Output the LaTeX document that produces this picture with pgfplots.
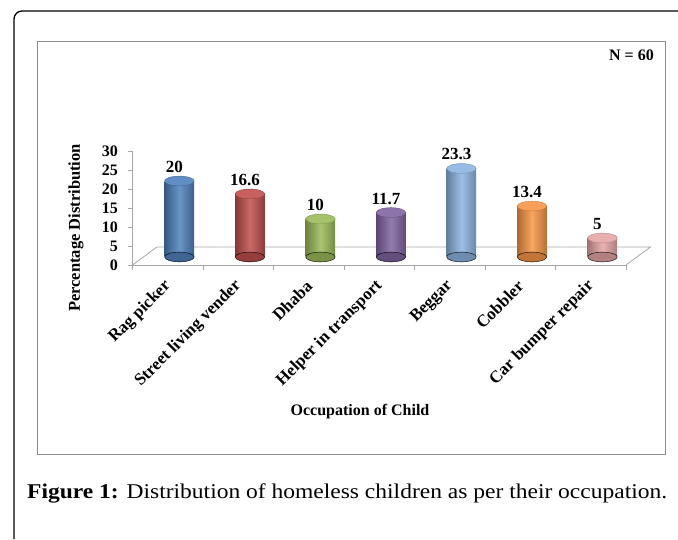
\documentclass[border=0pt]{standalone}
\usepackage{pgfplots}
\pgfplotsset{compat=1.18}
\usepackage{fontspec}
\setmainfont{Liberation Serif}
\usepackage{graphicx}

\definecolor{cA}{HTML}{4F81BD}
\definecolor{cB}{HTML}{C0504D}
\definecolor{cC}{HTML}{9BBB59}
\definecolor{cD}{HTML}{8064A2}
\definecolor{cE}{HTML}{8DB4E2}
\definecolor{cF}{HTML}{F79646}
\definecolor{cG}{HTML}{E6A6A5}
\definecolor{floorgray}{HTML}{A6A6A6}
\definecolor{boxgray}{HTML}{8C8C8C}

\newcommand{\cyl}[3]{%
  \addplot[only marks, mark=*, mark size=14.75pt,
    mark options={yscale=0.33, fill=#3!78!black, draw=none}] coordinates {(#1,0)};
  \addplot[ybar, bar width=29.5pt, bar shift=0pt, draw=none,
    left color=#3!70!black, right color=#3!75!black, middle color=#3!85!white] coordinates {(#1,#2)};
  \addplot[only marks, mark=*, mark size=14.75pt,
    mark options={yscale=0.33, fill=#3!90!white, draw=#3!80!black, line width=0.4pt},
    nodes near coords,
    nodes near coords style={anchor=center, xshift=-5pt, yshift=14pt, text=black,
      font=\bfseries\fontsize{17}{17}\selectfont}] coordinates {(#1,#2)};
}

\begin{document}
\begin{tikzpicture}[x=1pt,y=1pt]
\useasboundingbox (0,0) rectangle (678,539);
% outer frame
\draw[black, line width=1.3pt, rounded corners=8pt] (14,0) -- (14,528) -- (678,528);
% inner box
\draw[boxgray, line width=0.8pt] (37,85) rectangle (665,498);

% front plane axis (value axis and floor)
\begin{axis}[
  at={(132.5pt,274pt)}, anchor=south west, scale only axis,
  width=493.5pt, height=114pt,
  xmin=-0.5, xmax=6.5, ymin=0, ymax=30,
  axis x line*=bottom, axis y line*=left,
  axis line style={-, floorgray, line width=0.8pt},
  xtick={0,...,6},
  xticklabels={Rag picker, Street living vender, Dhaba, Helper in transport, Beggar, Cobbler, Car bumper repair},
  minor xtick={-0.5,0.5,...,6.5},
  ytick={0,5,...,30},
  tick align=outside, major tick length=5pt, minor tick length=5pt,
  tick style={floorgray, line width=0.8pt},
  major x tick style={draw=none},
  tick label style={text=black},
  yticklabel style={xshift=-6pt, font=\bfseries\fontsize{16}{16}\selectfont},
  xticklabel style={rotate=45, anchor=east, xshift=-5.7pt, yshift=-9.9pt, font=\bfseries\fontsize{17}{17}\selectfont},
  /pgf/number format/assume math mode=true,
  clip=false,
]
\draw[floorgray, line width=0.8pt] (axis cs:-0.5,0) -- ++(24.5pt,18pt) -- ++(493.5pt,0pt) -- (axis cs:6.5,0);
\end{axis}

% bar plane axis (cylinders)
\begin{axis}[
  at={(144.2pt,282pt)}, anchor=south west, scale only axis,
  width=493.5pt, height=114pt,
  xmin=-0.5, xmax=6.5, ymin=0, ymax=30,
  hide axis, clip=false,
  /pgf/number format/assume math mode=true,
]
\cyl{0}{20}{cA}
\cyl{1}{16.6}{cB}
\cyl{2}{10}{cC}
\cyl{3}{11.7}{cD}
\cyl{4}{23.3}{cE}
\cyl{5}{13.4}{cF}
\cyl{6}{5}{cG}
\end{axis}

% texts
\node[rotate=90, font=\bfseries\fontsize{16.5}{16.5}\selectfont] at (76,311) {Percentage Distribution};
\node[font=\bfseries\fontsize{16}{16}\selectfont] at (360,127) {Occupation of Child};
\node[anchor=base east, font=\bfseries\fontsize{16}{16}\selectfont, inner sep=0pt] at (654,478) {N = 60};
\node[anchor=base west, inner sep=0pt, font=\fontsize{21}{21}\selectfont] at (27,41)
  {\resizebox{640pt}{\height}{\textbf{Figure 1:} Distribution of homeless children as per their occupation.}};
\end{tikzpicture}
\end{document}
